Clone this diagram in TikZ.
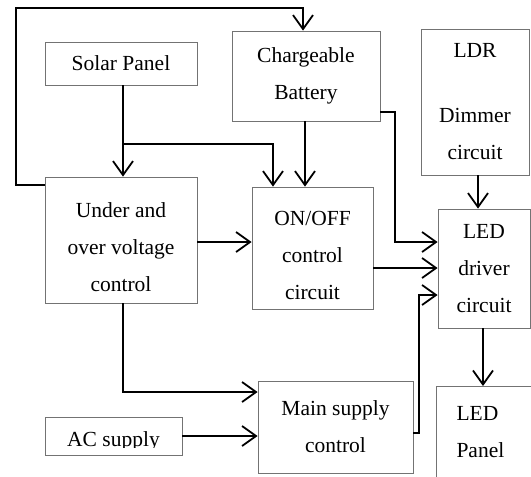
\documentclass[tikz,border=0pt]{standalone}
\usepackage{fontspec}
\setmainfont{Liberation Serif}
\usetikzlibrary{arrows.meta}
\begin{document}
\begin{tikzpicture}[x=1pt,y=-1pt,
  box/.style={draw=black!55, line width=0.8pt, rectangle, inner sep=0pt, align=center,
    font=\fontsize{21.5}{37}\selectfont},
  arr/.style={draw, line width=1.8pt, -{Straight Barb[length=14pt,width=20pt]}},
  conn/.style={draw, line width=1.8pt}]
\useasboundingbox (0,0) rectangle (531,477);
% boxes
\node[box, minimum width=152pt, minimum height=43pt] (sp) at (121,63.5) {Solar Panel};
\node[box, minimum width=148pt, minimum height=90pt] (bat) at (306,76) {Chargeable\\Battery};
\node[box, minimum width=108pt, minimum height=146pt] (ldr) at (475,102) {LDR\\[28pt]Dimmer\\circuit};
\node[box, minimum width=152pt, minimum height=126pt] (uv) at (121,240) {\\[-8pt]Under and\\over voltage\\control};
\node[box, minimum width=121pt, minimum height=122pt] (onoff) at (312.5,248) {\\[-8pt]ON/OFF\\control\\circuit};
\node[box, minimum width=92pt, minimum height=119pt] (drv) at (484,268.5) {LED\\driver\\circuit};
\node[box, minimum width=155pt, minimum height=92pt] (ms) at (335.5,427) {Main supply\\control};
\node[box, minimum width=137pt, minimum height=38pt] (ac) at (113.5,436) {};
\begin{scope}
  \clip (45,417) rectangle (182,447);
  \node[anchor=base, font=\fontsize{21.5}{36}\selectfont] (actext) at (113.5,446) {AC supply};
\end{scope}
% LED panel (open box)
\coordinate (pnTL) at (436,386);
\coordinate (pnBL) at (436,477);
\coordinate (pnTR) at (531,386);
\draw[black!55, line width=0.8pt] (pnBL) -- (pnTL) -- (pnTR);
\node[anchor=base west, font=\fontsize{21.5}{37}\selectfont] (pn1) at (453,420) {LED};
\node[anchor=base west, font=\fontsize{21.5}{37}\selectfont] (pn2) at (453,457) {Panel};
% helper coordinates
\coordinate (fbA) at (0,185);
\coordinate (fbB) at (16,8);
\coordinate (batX) at (303,0);
\coordinate (jY) at (0,144);
\coordinate (ox1) at (273,0);
\coordinate (ox2) at (305,0);
\coordinate (y242) at (0,242);
\coordinate (b1) at (0,112);
\coordinate (bx) at (395,0);
\coordinate (ldrX) at (478,0);
\coordinate (y268) at (0,268);
\coordinate (m1) at (0,433);
\coordinate (mx) at (419,0);
\coordinate (m2) at (0,295);
\coordinate (m3) at (0,392);
\coordinate (uvX) at (123,0);
\coordinate (drvX) at (483,0);
% connectors
\draw[arr] (uv.west |- fbA) -| (fbB) -| (bat.north -| batX);
\draw[arr] (sp.south -| uvX) -- (uv.north -| uvX);
\draw[arr] (uvX |- jY) -| (onoff.north -| ox1);
\draw[arr] (bat.south -| ox2) -- (onoff.north -| ox2);
\draw[arr] (uv.east |- y242) -- (onoff.west |- y242);
\draw[arr] (bat.east |- b1) -| (bx |- y242) -- (drv.west |- y242);
\draw[arr] (ldr.south -| ldrX) -- (drv.north -| ldrX);
\draw[arr] (onoff.east |- y268) -- (drv.west |- y268);
\draw[arr] (ms.east |- m1) -| (mx |- m2) -- (drv.west |- m2);
\draw[arr] (uv.south -| uvX) |- (ms.west |- m3);
\draw[arr] (ac.east) -- (ms.west |- ac.east);
\draw[arr] (drv.south -| drvX) -- (pnTL -| drvX);
\end{tikzpicture}
\end{document}
